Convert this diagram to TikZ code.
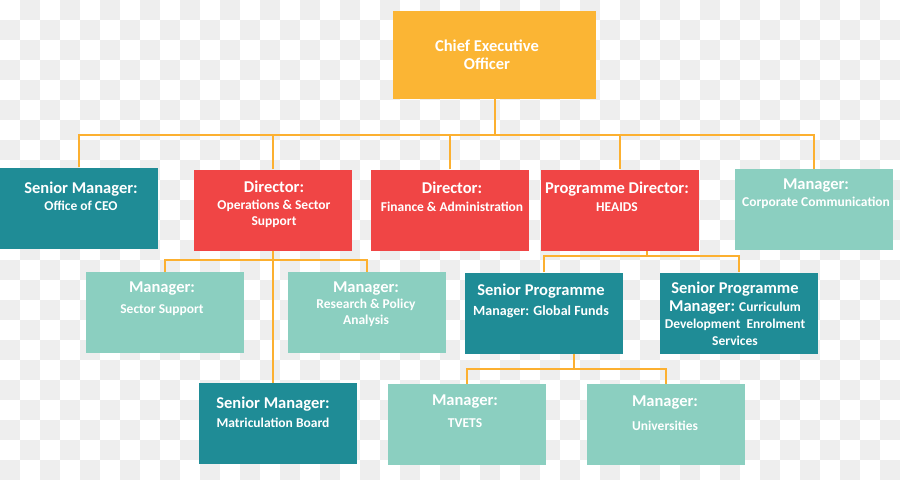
\documentclass[tikz,border=0pt]{standalone}
\usepackage{fontspec}
\setmainfont{Carlito}
\usetikzlibrary{positioning}
\definecolor{ceoyel}{RGB}{251,181,52}
\definecolor{dirred}{RGB}{240,69,69}
\definecolor{smteal}{RGB}{31,140,150}
\definecolor{mgmint}{RGB}{139,207,192}
\definecolor{wirecol}{RGB}{252,176,48}
\definecolor{chkgrey}{RGB}{238,238,238}
\newcommand\hdfont{\fontsize{16.5}{17}\selectfont}
\tikzset{
  boxbase/.style={rectangle, draw=none, minimum width=158pt, minimum height=81pt, inner sep=0pt},
  ceobox/.style={boxbase, fill=ceoyel, minimum width=203pt, minimum height=88pt},
  redbox/.style={boxbase, fill=dirred},
  tealbox/.style={boxbase, fill=smteal},
  mintbox/.style={boxbase, fill=mgmint},
  txt/.style={anchor=north, align=center, inner sep=0pt, text=white,
              font=\bfseries\fontsize{13.5}{17}\selectfont},
  wire/.style={draw=wirecol, line width=2pt},
  chk/.style={fill=chkgrey},
}

\begin{document}
\begin{tikzpicture}[x=1pt, y=-1pt]
\useasboundingbox (0,0) rectangle (900,480);

%% transparency checkerboard
\foreach \i in {0,...,44}{\foreach \j in {0,...,23}{
  \pgfmathtruncatemacro\odd{mod(\i+\j,2)}
  \ifnum\odd=1 \fill[chk] (\i*20,\j*20) rectangle ++(20,20);\fi}}

%% ==== boxes ====
\node[ceobox]  (ceo)   at (494.5, 55) {};
\node[tealbox] (cso)   at (79,  208) {};
\node[redbox]  (dops)  at (273, 210) {};
\node[redbox]  (dfin)  at (450, 210) {};
\node[redbox]  (dprog) at (620, 210) {};
\node[mintbox] (corp)  at (814, 209.5) {};

\node[mintbox] (msec)  at (165, 312.5) {};
\node[mintbox] (mres)  at (367, 312.5) {};
\node[tealbox] (spgf)  at (543.5, 313) {};
\node[tealbox] (spcd)  at (739, 313) {};

\node[tealbox] (smmb)  at (277.5, 423.5) {};
\node[mintbox] (mtv)   at (466.5, 424.5) {};
\node[mintbox] (muni)  at (665.5, 424.5) {};

%% ==== texts ====
\node[txt, font=\bfseries\fontsize{16.5}{18}\selectfont] (tceo) at (487, 40) {Chief Executive\\Officer};
\node[txt] (tcso)  at (81, 182)  {{\hdfont Senior Manager:}\\Office of CEO};
\node[txt] (tdops) at (274, 181) {{\hdfont Director:}\\Operations \& Sector\\[-1pt]Support};
\node[txt] (tdfin) at (452, 182) {{\hdfont Director:}\\[1pt]Finance \& Administration};
\node[txt] (tdprog) at (617, 182) {{\hdfont Programme Director:}\\[1pt]HEAIDS};
\node[txt] (tcorp) at (816, 179) {{\hdfont Manager:}\\Corporate Communication};

\node[txt] (tmsec) at (162, 282) {{\hdfont Manager:}\\[4pt]Sector Support};
\node[txt] (tmres) at (366, 282) {{\hdfont Manager:}\\[-1pt]Research \& Policy\\[-1pt]Analysis};
\node[txt] (tspgf) at (541, 284) {{\hdfont Senior Programme}\\[3pt]{\fontsize{14}{17}\selectfont Manager: Global Funds}};
\node[txt] (tspcd) at (735, 282) {{\hdfont Senior Programme}\\[1pt]{\hdfont Manager:} Curriculum\\Development\ \ Enrolment\\Services};

\node[txt] (tsmmb) at (273, 397) {{\hdfont Senior Manager:}\\[2pt]Matriculation Board};
\node[txt] (tmtv)  at (465, 395) {{\hdfont Manager:}\\[5pt]TVETS};
\node[txt] (tmuni) at (665, 396) {{\hdfont Manager:}\\[7pt]Universities};

%% ==== connectors ====
\coordinate (bus1) at (0,135);
\coordinate (bus2) at (0,260);
\coordinate (bus3) at (0,256);
\coordinate (bus4) at (0,369);

\draw[wire] (ceo.south) -- (ceo.south |- bus1);
\draw[wire] (cso.north) |- (bus1 -| ceo.south) -| (corp.north);
\foreach \n in {dops,dfin,dprog}
  \draw[wire] (\n.north) -- (\n.north |- bus1);

\draw[wire] (dops.south) -- (dops.south |- smmb.north);
\draw[wire] (msec.north) |- (bus2 -| dops.south) -| (mres.north);

\draw[wire] ([xshift=27pt]dprog.south) -- ([xshift=27pt]dprog.south |- bus3);
\draw[wire] (spgf.north) |- (bus3 -| dprog.south) -| (spcd.north);

\draw[wire] ([xshift=30pt]spgf.south) -- ([xshift=30pt]spgf.south |- bus4);
\draw[wire] (mtv.north) |- (bus4 -| spgf.south) -| (muni.north);

\end{tikzpicture}
\end{document}
